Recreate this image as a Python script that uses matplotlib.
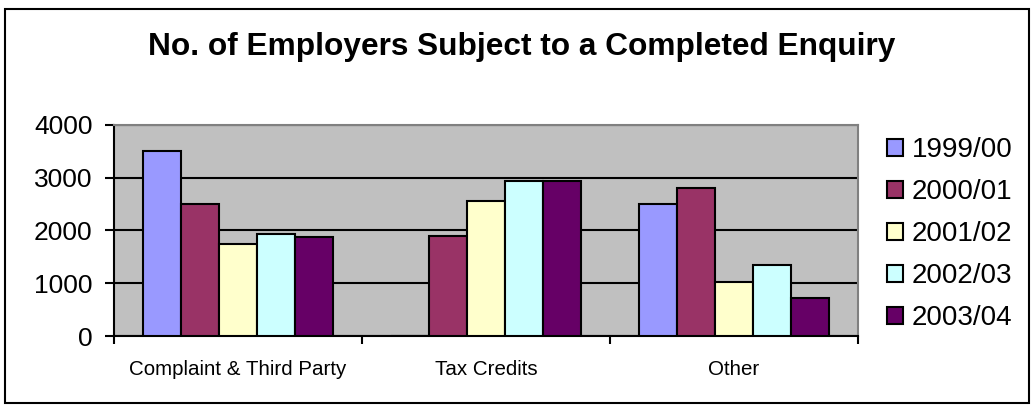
import numpy as np
import matplotlib
matplotlib.use("Agg")
import matplotlib.pyplot as plt
from matplotlib.patches import Rectangle

plt.rcParams['font.family'] = ['Liberation Sans', 'DejaVu Sans']

# Data
categories = ["Complaint & Third Party", "Tax Credits", "Other"]
years = ["1999/00", "2000/01", "2001/02", "2002/03", "2003/04"]
v1999 = [3500, 0, 2500]
v2000 = [2500, 1900, 2810]
v2001 = [1750, 2550, 1030]
v2002 = [1940, 2930, 1340]
v2003 = [1870, 2930, 720]
series = [v1999, v2000, v2001, v2002, v2003]
colors = ["#9999FF", "#993366", "#FFFFCC", "#CCFFFF", "#660066"]

fig = plt.figure(figsize=(10.33, 4.05), dpi=100)
fig.patch.set_facecolor("white")
ax = fig.add_axes([114/1033, 1 - 336/405, (858 - 114)/1033, (336 - 125)/405])
ax.set_facecolor("#C0C0C0")

x = np.arange(len(categories))
w = 0.153
for j, (vals, c, lab) in enumerate(zip(series, colors, years)):
    ax.bar(x + (j - 2) * w, vals, width=w, color=c, edgecolor="black",
           linewidth=1.5, label=lab, zorder=3)

ax.set_xlim(-0.5, 2.5)
ax.set_ylim(0, 4000)
ax.set_yticks([0, 1000, 2000, 3000, 4000])
ax.yaxis.grid(True, color="black", linewidth=1.5, zorder=1)
ax.set_axisbelow(True)

# category boundaries as major ticks, names on minor ticks
ax.set_xticks([-0.5, 0.5, 1.5, 2.5])
ax.set_xticklabels([])
ax.set_xticks(x, minor=True)
ax.set_xticklabels(categories, minor=True, fontsize=14.8)
ax.tick_params(axis="x", which="major", direction="out", length=6, width=1.5)
ax.tick_params(axis="x", which="minor", length=0, pad=17)
ax.tick_params(axis="y", direction="out", length=6.5, width=1.5, labelsize=19, pad=9)

for s in ["left", "bottom"]:
    ax.spines[s].set_color("black")
    ax.spines[s].set_linewidth(1.5)
for s in ["top", "right"]:
    ax.spines[s].set_color("#808080")
    ax.spines[s].set_linewidth(1.5)

leg = ax.legend(loc="upper left", bbox_to_anchor=(887/1033, 1 - 137/405),
                bbox_transform=fig.transFigure, frameon=False, fontsize=20,
                handlelength=0.58, handleheight=0.58, handletextpad=0.32,
                labelspacing=0.58, borderpad=0, borderaxespad=0)

fig.text(522/1033, 1 - 55/405, "No. of Employers Subject to a Completed Enquiry",
         ha="center", va="baseline", fontsize=22.8, fontweight="bold")

# outer chart border
fig.patches.append(Rectangle((5/1033, 1 - 403/405), (1029 - 5)/1033, (403 - 9)/405,
                             transform=fig.transFigure, fill=False,
                             edgecolor="black", linewidth=1.5))

fig.savefig("out.png", dpi=100)
